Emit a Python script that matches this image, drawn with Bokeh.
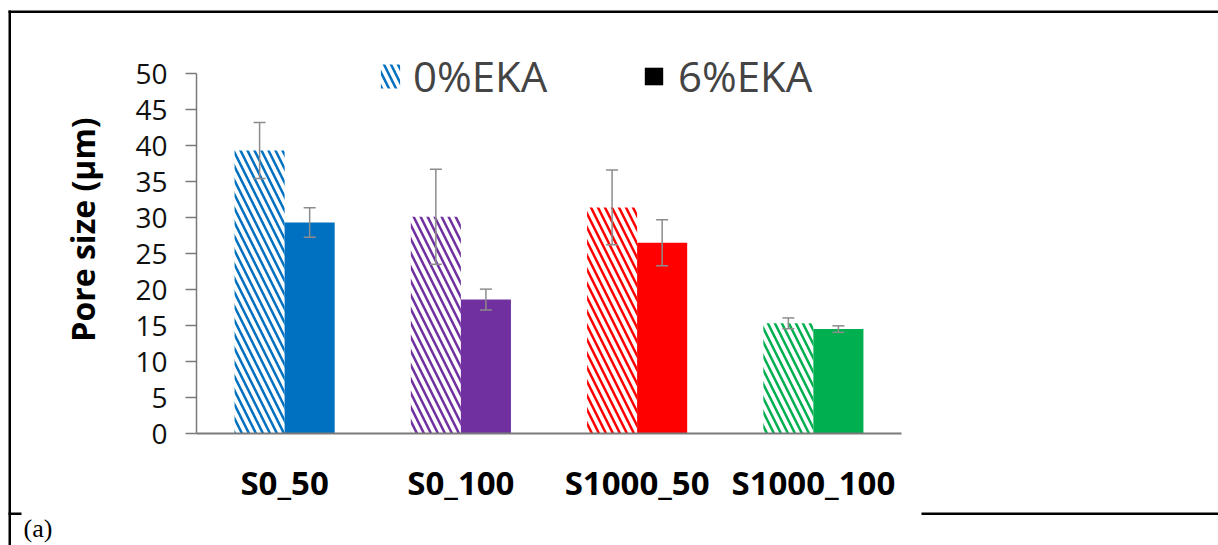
from math import pi
from bokeh.plotting import figure
from bokeh.models import (ColumnDataSource, Range1d, FixedTicker, LinearAxis, Whisker,
                          TeeHead, Legend, LegendItem, BoxAnnotation, Label)
from bokeh.transform import dodge
from bokeh.embed import file_html
from bokeh.resources import INLINE

# ---- data -------------------------------------------------------------
samples = ["S0_50", "S0_100", "S1000_50", "S1000_100"]
bar_colors = ["#0070C0", "#7030A0", "#FF0000", "#00B050"]
pore_0eka = [39.3, 30.1, 31.4, 15.3]   # mean pore size, 0 % EKA (µm)
sd_0eka = [3.9, 6.6, 5.2, 0.75]
pore_6eka = [29.3, 18.6, 26.5, 14.5]   # mean pore size, 6 % EKA (µm)
sd_6eka = [2.05, 1.45, 3.2, 0.45]
y_ticks = [0, 5, 10, 15, 20, 25, 30, 35, 40, 45, 50]
series_labels = ["0%EKA", "6%EKA"]
y_title = "Pore size (µm)"
panel_tag = "(a)"

x_pos = [i + 0.5 for i in range(len(samples))]   # one unit per sample group

src = ColumnDataSource(dict(
    x=x_pos,
    color=bar_colors,
    p0=pore_0eka,
    p6=pore_6eka,
    up0=[m + s for m, s in zip(pore_0eka, sd_0eka)],
    lo0=[m - s for m, s in zip(pore_0eka, sd_0eka)],
    up6=[m + s for m, s in zip(pore_6eka, sd_6eka)],
    lo6=[m - s for m, s in zip(pore_6eka, sd_6eka)],
))

# ---- geometry ---------------------------------------------------------
W, H = 1218, 545
X0_PX, X4_PX = 196, 901        # where the category axis starts / ends
Y0_PX, Y50_PX = 433, 73        # where 0 and 50 µm sit
px_per_cat = (X4_PX - X0_PX) / len(samples)
px_per_um = (Y0_PX - Y50_PX) / 50.0

# the plotting frame covers the whole canvas; axes are pinned inside it
p = figure(width=W, height=H,
           x_range=Range1d(-X0_PX / px_per_cat, (W - X0_PX) / px_per_cat),
           y_range=Range1d(-(H - Y0_PX) / px_per_um, Y0_PX / px_per_um),
           x_axis_location=None, y_axis_location=None,
           output_backend="svg", toolbar_location=None, min_border=0)
p.outline_line_color = None
p.grid.grid_line_color = None
p.background_fill_color = "white"
p.border_fill_color = "white"

OFF, BW = 0.142, 0.284
AXIS_GREY = "#7a7a7a"
ERR_GREY = "#8c8c8c"

hatched = p.vbar(x=dodge("x", -OFF), top="p0", width=BW, source=src,
                 fill_color="white", line_color=None,
                 hatch_pattern="left_diagonal_line", hatch_color="color",
                 hatch_scale=14, hatch_weight=2.5)
solid = p.vbar(x=dodge("x", OFF), top="p6", width=BW, source=src,
               fill_color="color", line_color=None)
# zero-height black bar that only provides the 6 % legend swatch
swatch = p.vbar(x=[x_pos[0]], top=[0], width=BW, fill_color="black", line_color=None)

for base, up, lo in [(-OFF, "up0", "lo0"), (OFF, "up6", "lo6")]:
    p.add_layout(Whisker(source=src, base=dodge("x", base), upper=up, lower=lo,
                         line_color=ERR_GREY, line_width=1.5, level="annotation",
                         upper_head=TeeHead(size=12, line_color=ERR_GREY, line_width=1.5),
                         lower_head=TeeHead(size=12, line_color=ERR_GREY, line_width=1.5)))

# ---- axes -------------------------------------------------------------
ya = LinearAxis(fixed_location=0, bounds=(0, 50), ticker=FixedTicker(ticks=y_ticks))
ya.major_label_text_font = "Open Sans"
ya.major_label_text_font_size = "28px"
ya.major_label_text_color = "#111111"
ya.major_label_standoff = 18
ya.major_tick_out = 11
ya.major_tick_in = 0
ya.minor_tick_out = 0
ya.minor_tick_in = 0
ya.axis_line_color = AXIS_GREY
ya.axis_line_width = 1.5
ya.major_tick_line_color = AXIS_GREY
ya.major_tick_line_width = 1.5
p.add_layout(ya, "left")

xa = LinearAxis(fixed_location=0, bounds=(0, len(samples)), ticker=FixedTicker(ticks=x_pos),
                major_label_overrides={x: s for x, s in zip(x_pos, samples)})
xa.major_label_text_font = "Open Sans"
xa.major_label_text_font_style = "bold"
xa.major_label_text_font_size = "33px"
xa.major_label_text_color = "black"
xa.major_label_standoff = 26
xa.major_tick_out = 0
xa.major_tick_in = 0
xa.minor_tick_out = 0
xa.minor_tick_in = 0
xa.axis_line_color = AXIS_GREY
xa.axis_line_width = 2
p.add_layout(xa, "below")

p.add_layout(Label(x=82, y=H - 229, x_units="screen", y_units="screen", text=y_title,
                   angle=pi / 2, text_align="center", text_baseline="middle",
                   text_font="Open Sans", text_font_style="bold", text_font_size="32px",
                   text_color="black"))

# ---- legend (two single-entry legends so the swatches can differ) -----
common = dict(label_text_font="Open Sans", label_text_font_size="42px",
              border_line_color=None, background_fill_alpha=0, padding=0, margin=0)
leg0 = Legend(items=[LegendItem(label=series_labels[0], renderers=[hatched], index=0)],
              location=(378, H - 104), glyph_width=24, glyph_height=30, label_standoff=11,
              **common)
leg1 = Legend(items=[LegendItem(label=series_labels[1], renderers=[swatch], index=0)],
              location=(642, H - 104), glyph_width=23, glyph_height=22, label_standoff=13,
              **common)
p.add_layout(leg0)
p.add_layout(leg1)

# ---- page rules and panel tag ----------------------------------------
def rule(x0, x1, y0, y1):
    return BoxAnnotation(left=x0, right=x1, top=H - y0, bottom=H - y1,
                         left_units="screen", right_units="screen",
                         top_units="screen", bottom_units="screen",
                         fill_color="black", fill_alpha=1, line_color=None, level="overlay")

for r in [rule(8, W, 10, 12.5), rule(8, 10.5, 10, H), rule(921, W, 512, 514.5),
          rule(8, 21, 512, 514.5)]:
    p.add_layout(r)

p.add_layout(Label(x=23, y=H - 513, x_units="screen", y_units="screen", text=panel_tag,
                   text_font="Liberation Serif", text_font_size="26px", text_color="black",
                   text_baseline="top"))

open("out.html", "w").write(file_html(p, INLINE))
